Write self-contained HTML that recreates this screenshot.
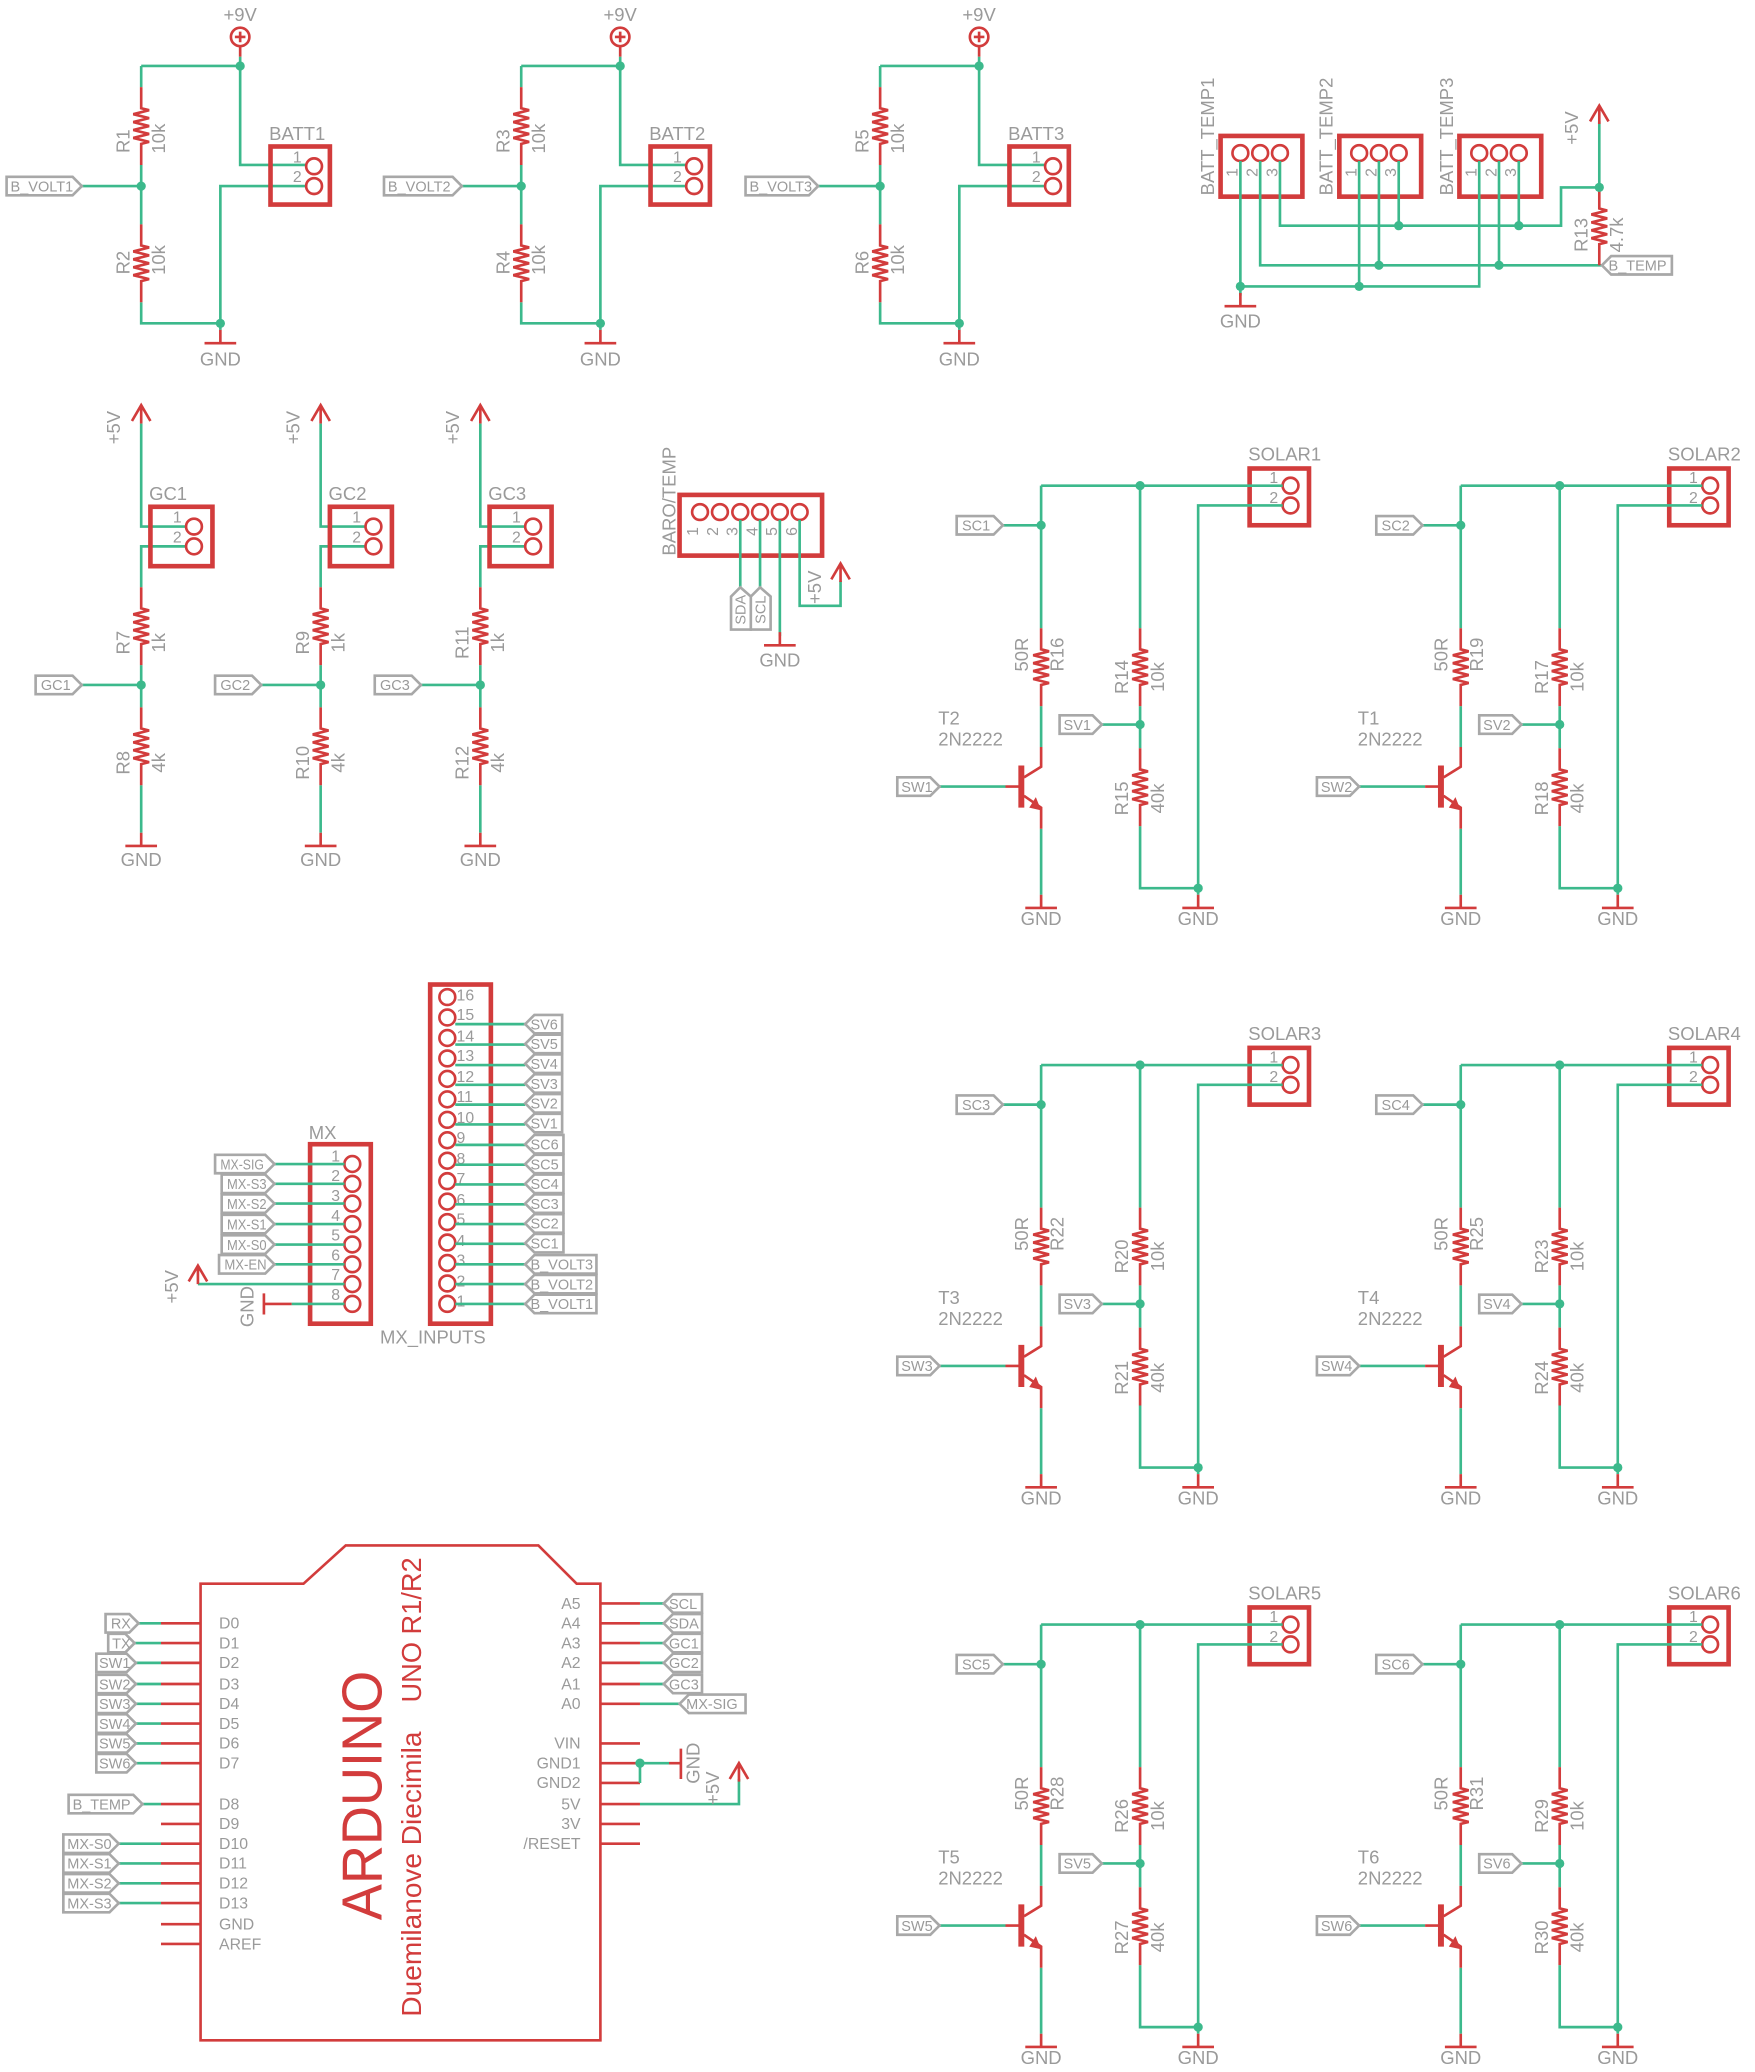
<!DOCTYPE html>
<html><head><meta charset="utf-8"><style>
html,body{margin:0;padding:0;background:#fff;}
svg{display:block;}
text{font-family:"Liberation Sans",sans-serif;fill:#9a9a9a;}
.w{stroke:#3cb98c;stroke-width:2;fill:none;}
.r{stroke:#d23c3c;stroke-width:2;fill:none;}
.rb{stroke:#d23c3c;stroke-width:3.5;fill:none;}
.l{stroke:#a8a8a8;stroke-width:2;fill:#fff;}
.j{fill:#3cb98c;}
.n{font-size:14px;}
.s{font-size:11px;}
.p{font-size:12px;}
.m{text-anchor:middle;}
.e{text-anchor:end;}
</style></head><body>
<svg width="1755" height="2072" viewBox="0 0 1330 1570" preserveAspectRatio="none" xmlns="http://www.w3.org/2000/svg">
<defs>
<path id="res" d="M0,0 V16 L6,17.5 -6,20.5 6,23.5 -6,26.5 6,29.5 -6,32.5 6,35.5 -6,38.5 6,41.5 0,43 V59" stroke="#d23c3c" stroke-width="2" fill="none"/>
<circle id="jn" r="3.5" fill="#3cb98c"/>
<g id="p9"><circle cx="0" cy="0" r="7" stroke="#d23c3c" stroke-width="2" fill="none"/><path d="M-4,0 H4 M0,-4 V4 M0,7 V15" stroke="#d23c3c" stroke-width="2"/></g>
<path id="v5" d="M0,0 V12 M-7,10 L0,-2 L7,10" stroke="#d23c3c" stroke-width="2" fill="none"/>
<path id="gnd" d="M0,-10 V0 M-12,0 H12" stroke="#d23c3c" stroke-width="2" fill="none"/>
</defs>

<!-- ===== BATT blocks ===== -->
<g>
<use href="#p9" x="182" y="28"/><text class="n m" x="182" y="16">+9V</text>
<path class="w" d="M182,43 V125 H232 M107,50 H182 M107,50 V66 M107,125 V170 M62,141 H107 M107,229 V245 H167 M232,141 H167 V250"/>
<use href="#res" x="107" y="66"/><use href="#res" x="107" y="170"/>
<use href="#jn" x="182" y="50"/><use href="#jn" x="107" y="141"/><use href="#jn" x="167" y="245"/>
<use href="#gnd" x="167" y="260"/><text class="n m" x="167" y="277">GND</text>
<rect class="rb" x="205" y="111" width="45" height="44"/>
<circle class="r" cx="238" cy="126" r="6"/><circle class="r" cx="238" cy="141" r="6"/>
<text class="p" x="222" y="123">1</text><text class="p" x="222" y="138">2</text>
<text class="n" x="204" y="106">BATT1</text>
<path class="l" d="M5,134 H55 L62,141 L55,148 H5 Z"/><text class="s" x="8" y="145">B_VOLT1</text>
<text class="n m" transform="translate(98,107) rotate(-90)">R1</text><text class="n m" transform="translate(125,105) rotate(-90)">10k</text>
<text class="n m" transform="translate(98,199) rotate(-90)">R2</text><text class="n m" transform="translate(125,197) rotate(-90)">10k</text>
</g>
<g transform="translate(288,0)">
<use href="#p9" x="182" y="28"/><text class="n m" x="182" y="16">+9V</text>
<path class="w" d="M182,43 V125 H232 M107,50 H182 M107,50 V66 M107,125 V170 M62,141 H107 M107,229 V245 H167 M232,141 H167 V250"/>
<use href="#res" x="107" y="66"/><use href="#res" x="107" y="170"/>
<use href="#jn" x="182" y="50"/><use href="#jn" x="107" y="141"/><use href="#jn" x="167" y="245"/>
<use href="#gnd" x="167" y="260"/><text class="n m" x="167" y="277">GND</text>
<rect class="rb" x="205" y="111" width="45" height="44"/>
<circle class="r" cx="238" cy="126" r="6"/><circle class="r" cx="238" cy="141" r="6"/>
<text class="p" x="222" y="123">1</text><text class="p" x="222" y="138">2</text>
<text class="n" x="204" y="106">BATT2</text>
<path class="l" d="M3,134 H55 L62,141 L55,148 H3 Z"/><text class="s" x="6" y="145">B_VOLT2</text>
<text class="n m" transform="translate(98,107) rotate(-90)">R3</text><text class="n m" transform="translate(125,105) rotate(-90)">10k</text>
<text class="n m" transform="translate(98,199) rotate(-90)">R4</text><text class="n m" transform="translate(125,197) rotate(-90)">10k</text>
</g>
<g transform="translate(560,0)">
<use href="#p9" x="182" y="28"/><text class="n m" x="182" y="16">+9V</text>
<path class="w" d="M182,43 V125 H232 M107,50 H182 M107,50 V66 M107,125 V170 M60,141 H107 M107,229 V245 H167 M232,141 H167 V250"/>
<use href="#res" x="107" y="66"/><use href="#res" x="107" y="170"/>
<use href="#jn" x="182" y="50"/><use href="#jn" x="107" y="141"/><use href="#jn" x="167" y="245"/>
<use href="#gnd" x="167" y="260"/><text class="n m" x="167" y="277">GND</text>
<rect class="rb" x="205" y="111" width="45" height="44"/>
<circle class="r" cx="238" cy="126" r="6"/><circle class="r" cx="238" cy="141" r="6"/>
<text class="p" x="222" y="123">1</text><text class="p" x="222" y="138">2</text>
<text class="n" x="204" y="106">BATT3</text>
<path class="l" d="M5,134 H53 L60,141 L53,148 H5 Z"/><text class="s" x="8" y="145">B_VOLT3</text>
<text class="n m" transform="translate(98,107) rotate(-90)">R5</text><text class="n m" transform="translate(125,105) rotate(-90)">10k</text>
<text class="n m" transform="translate(98,199) rotate(-90)">R6</text><text class="n m" transform="translate(125,197) rotate(-90)">10k</text>
</g>

<!-- ===== BATT TEMP ===== -->
<g>
<rect class="rb" x="925" y="103" width="62" height="46"/>
<rect class="rb" x="1015" y="103" width="62" height="46"/>
<rect class="rb" x="1106" y="103" width="62" height="46"/>
<circle class="r" cx="940" cy="116" r="6"/><circle class="r" cx="955" cy="116" r="6"/><circle class="r" cx="970" cy="116" r="6"/>
<circle class="r" cx="1030" cy="116" r="6"/><circle class="r" cx="1045" cy="116" r="6"/><circle class="r" cx="1060" cy="116" r="6"/>
<circle class="r" cx="1121" cy="116" r="6"/><circle class="r" cx="1136" cy="116" r="6"/><circle class="r" cx="1151" cy="116" r="6"/>
<text class="p" transform="translate(938,134) rotate(-90)">1</text><text class="p" transform="translate(953,134) rotate(-90)">2</text><text class="p" transform="translate(968,134) rotate(-90)">3</text>
<text class="p" transform="translate(1028,134) rotate(-90)">1</text><text class="p" transform="translate(1043,134) rotate(-90)">2</text><text class="p" transform="translate(1058,134) rotate(-90)">3</text>
<text class="p" transform="translate(1119,134) rotate(-90)">1</text><text class="p" transform="translate(1134,134) rotate(-90)">2</text><text class="p" transform="translate(1149,134) rotate(-90)">3</text>
<text class="n" transform="translate(920,148) rotate(-90)">BATT_TEMP1</text>
<text class="n" transform="translate(1010,148) rotate(-90)">BATT_TEMP2</text>
<text class="n" transform="translate(1101,148) rotate(-90)">BATT_TEMP3</text>
<path class="w" d="M970,122 V171 H1183 V142 H1212 M1060,122 V171 M1151,122 V171 M955,122 V201 H1214 M1045,122 V201 M1136,122 V201 M940,122 V217 H1121 V122 M1030,122 V217 M940,217 V224 M1212,92 V142"/>
<use href="#v5" x="1212" y="82"/>
<text class="n m" transform="translate(1196,97) rotate(-90)">+5V</text>
<use href="#res" x="1212" y="142"/>
<use href="#jn" x="1060" y="171"/><use href="#jn" x="1151" y="171"/><use href="#jn" x="1045" y="201"/><use href="#jn" x="1136" y="201"/><use href="#jn" x="940" y="217"/><use href="#jn" x="1030" y="217"/><use href="#jn" x="1212" y="142"/>
<use href="#gnd" x="940" y="232"/><text class="n m" x="940" y="248">GND</text>
<path class="l" d="M1214,201 L1221,194 H1267 V208 H1221 Z"/><text class="s" x="1219" y="205">B_TEMP</text>
<text class="n m" transform="translate(1203,178) rotate(-90)">R13</text><text class="n m" transform="translate(1230,178) rotate(-90)">4.7k</text>
</g>

<!-- ===== GC blocks ===== -->
<g>
<use href="#v5" x="107" y="309"/><text class="n m" transform="translate(91,324) rotate(-90)">+5V</text>
<path class="w" d="M107,321 V399 H141 M141,414 H107 V445 M107,504 V536 M62,519 H107 M107,595 V631"/>
<use href="#res" x="107" y="445"/><use href="#res" x="107" y="536"/><use href="#jn" x="107" y="519"/>
<rect class="rb" x="114" y="384" width="47" height="45"/>
<circle class="r" cx="147" cy="399" r="6"/><circle class="r" cx="147" cy="414" r="6"/>
<text class="p" x="131" y="396">1</text><text class="p" x="131" y="411">2</text>
<text class="n" x="113" y="379">GC1</text>
<path class="l" d="M27,512 H55 L62,519 L55,526 H27 Z"/><text class="s" x="31" y="523">GC1</text>
<use href="#gnd" x="107" y="641"/><text class="n m" x="107" y="656">GND</text>
<text class="n m" transform="translate(98,487) rotate(-90)">R7</text><text class="n m" transform="translate(125,487) rotate(-90)">1k</text>
<text class="n m" transform="translate(98,578) rotate(-90)">R8</text><text class="n m" transform="translate(125,578) rotate(-90)">4k</text>
</g>
<g transform="translate(136,0)">
<use href="#v5" x="107" y="309"/><text class="n m" transform="translate(91,324) rotate(-90)">+5V</text>
<path class="w" d="M107,321 V399 H141 M141,414 H107 V445 M107,504 V536 M62,519 H107 M107,595 V631"/>
<use href="#res" x="107" y="445"/><use href="#res" x="107" y="536"/><use href="#jn" x="107" y="519"/>
<rect class="rb" x="114" y="384" width="47" height="45"/>
<circle class="r" cx="147" cy="399" r="6"/><circle class="r" cx="147" cy="414" r="6"/>
<text class="p" x="131" y="396">1</text><text class="p" x="131" y="411">2</text>
<text class="n" x="113" y="379">GC2</text>
<path class="l" d="M27,512 H55 L62,519 L55,526 H27 Z"/><text class="s" x="31" y="523">GC2</text>
<use href="#gnd" x="107" y="641"/><text class="n m" x="107" y="656">GND</text>
<text class="n m" transform="translate(98,487) rotate(-90)">R9</text><text class="n m" transform="translate(125,487) rotate(-90)">1k</text>
<text class="n m" transform="translate(98,578) rotate(-90)">R10</text><text class="n m" transform="translate(125,578) rotate(-90)">4k</text>
</g>
<g transform="translate(257,0)">
<use href="#v5" x="107" y="309"/><text class="n m" transform="translate(91,324) rotate(-90)">+5V</text>
<path class="w" d="M107,321 V399 H141 M141,414 H107 V445 M107,504 V536 M62,519 H107 M107,595 V631"/>
<use href="#res" x="107" y="445"/><use href="#res" x="107" y="536"/><use href="#jn" x="107" y="519"/>
<rect class="rb" x="114" y="384" width="47" height="45"/>
<circle class="r" cx="147" cy="399" r="6"/><circle class="r" cx="147" cy="414" r="6"/>
<text class="p" x="131" y="396">1</text><text class="p" x="131" y="411">2</text>
<text class="n" x="113" y="379">GC3</text>
<path class="l" d="M27,512 H55 L62,519 L55,526 H27 Z"/><text class="s" x="31" y="523">GC3</text>
<use href="#gnd" x="107" y="641"/><text class="n m" x="107" y="656">GND</text>
<text class="n m" transform="translate(98,487) rotate(-90)">R11</text><text class="n m" transform="translate(125,487) rotate(-90)">1k</text>
<text class="n m" transform="translate(98,578) rotate(-90)">R12</text><text class="n m" transform="translate(125,578) rotate(-90)">4k</text>
</g>

<!-- ===== BARO/TEMP ===== -->
<g>
<rect class="rb" x="515" y="375" width="108" height="46"/>
<circle class="r" cx="530.5" cy="388" r="6"/><circle class="r" cx="545.6" cy="388" r="6"/><circle class="r" cx="561" cy="388" r="6"/><circle class="r" cx="576" cy="388" r="6"/><circle class="r" cx="591" cy="388" r="6"/><circle class="r" cx="606" cy="388" r="6"/>
<text class="p" transform="translate(529,406) rotate(-90)">1</text><text class="p" transform="translate(544,406) rotate(-90)">2</text><text class="p" transform="translate(559,406) rotate(-90)">3</text><text class="p" transform="translate(574,406) rotate(-90)">4</text><text class="p" transform="translate(589,406) rotate(-90)">5</text><text class="p" transform="translate(604,406) rotate(-90)">6</text>
<text class="n" transform="translate(512,421) rotate(-90)">BARO/TEMP</text>
<path class="w" d="M561,394 V445 M576,394 V445 M591,394 V482 M606,394 V459 H637 V440"/>
<use href="#v5" x="637" y="429"/>
<text class="n m" transform="translate(622,445) rotate(-90)">+5V</text>
<path class="l" d="M561,445 L569,452 V477 H554 V452 Z"/><text class="s m" transform="translate(565,462) rotate(-90)">SDA</text>
<path class="l" d="M576,445 L584,452 V477 H569 V452 Z"/><text class="s m" transform="translate(580,462) rotate(-90)">SCL</text>
<use href="#gnd" x="591" y="489"/><text class="n m" x="591" y="505">GND</text>
</g>

<!-- ===== SOLAR blocks ===== -->
<g>
<rect class="rb" x="947" y="355" width="45" height="43"/>
<circle class="r" cx="978" cy="368" r="6"/><circle class="r" cx="978" cy="383" r="6"/>
<text class="p" x="962" y="366">1</text><text class="p" x="962" y="381">2</text>
<text class="n" x="946" y="349">SOLAR1</text>
<path class="w" d="M789,368 H972 M972,383 H908 V678 M789,368 V476 M760,398 H789 M864,368 V476 M864,535 V567 M835,549 H864 M864,626 V673 H908 M789,535 V566 M712,596 H762 M789,628 V678"/>
<use href="#res" x="789" y="476"/><use href="#res" x="864" y="476"/><use href="#res" x="864" y="567"/>
<path class="r" d="M762,596 H774 M776,589 L789,581 V566 M776,603 L789,612 V628"/>
<path d="M774,580 V612" stroke="#d23c3c" stroke-width="4.5"/>
<polygon points="789,614 780,612 785,604" fill="#d23c3c"/>
<use href="#jn" x="864" y="368"/><use href="#jn" x="789" y="398"/><use href="#jn" x="864" y="549"/><use href="#jn" x="908" y="673"/>
<use href="#gnd" x="789" y="688"/><use href="#gnd" x="908" y="688"/>
<text class="n m" x="789" y="701">GND</text><text class="n m" x="908" y="701">GND</text>
<text class="n" x="711" y="549">T2</text><text class="n" x="711" y="565">2N2222</text>
<text class="n m" transform="translate(779,496) rotate(-90)">50R</text><text class="n m" transform="translate(806,496) rotate(-90)">R16</text>
<text class="n m" transform="translate(855,513) rotate(-90)">R14</text><text class="n m" transform="translate(882,513) rotate(-90)">10k</text>
<text class="n m" transform="translate(855,605) rotate(-90)">R15</text><text class="n m" transform="translate(882,605) rotate(-90)">40k</text>
<path class="l" d="M725,391 H753 L760,398 L753,405 H725 Z"/><text class="s" x="729" y="402">SC1</text>
<path class="l" d="M803,542 H828 L835,549 L828,556 H803 Z"/><text class="s" x="806" y="553">SV1</text>
<path class="l" d="M680,589 H705 L712,596 L705,603 H680 Z"/><text class="s" x="683" y="600">SW1</text>
</g>
<g transform="translate(318,0)">
<rect class="rb" x="947" y="355" width="45" height="43"/>
<circle class="r" cx="978" cy="368" r="6"/><circle class="r" cx="978" cy="383" r="6"/>
<text class="p" x="962" y="366">1</text><text class="p" x="962" y="381">2</text>
<text class="n" x="946" y="349">SOLAR2</text>
<path class="w" d="M789,368 H972 M972,383 H908 V678 M789,368 V476 M760,398 H789 M864,368 V476 M864,535 V567 M835,549 H864 M864,626 V673 H908 M789,535 V566 M712,596 H762 M789,628 V678"/>
<use href="#res" x="789" y="476"/><use href="#res" x="864" y="476"/><use href="#res" x="864" y="567"/>
<path class="r" d="M762,596 H774 M776,589 L789,581 V566 M776,603 L789,612 V628"/>
<path d="M774,580 V612" stroke="#d23c3c" stroke-width="4.5"/>
<polygon points="789,614 780,612 785,604" fill="#d23c3c"/>
<use href="#jn" x="864" y="368"/><use href="#jn" x="789" y="398"/><use href="#jn" x="864" y="549"/><use href="#jn" x="908" y="673"/>
<use href="#gnd" x="789" y="688"/><use href="#gnd" x="908" y="688"/>
<text class="n m" x="789" y="701">GND</text><text class="n m" x="908" y="701">GND</text>
<text class="n" x="711" y="549">T1</text><text class="n" x="711" y="565">2N2222</text>
<text class="n m" transform="translate(779,496) rotate(-90)">50R</text><text class="n m" transform="translate(806,496) rotate(-90)">R19</text>
<text class="n m" transform="translate(855,513) rotate(-90)">R17</text><text class="n m" transform="translate(882,513) rotate(-90)">10k</text>
<text class="n m" transform="translate(855,605) rotate(-90)">R18</text><text class="n m" transform="translate(882,605) rotate(-90)">40k</text>
<path class="l" d="M725,391 H753 L760,398 L753,405 H725 Z"/><text class="s" x="729" y="402">SC2</text>
<path class="l" d="M803,542 H828 L835,549 L828,556 H803 Z"/><text class="s" x="806" y="553">SV2</text>
<path class="l" d="M680,589 H705 L712,596 L705,603 H680 Z"/><text class="s" x="683" y="600">SW2</text>
</g>
<g transform="translate(0,439)">
<rect class="rb" x="947" y="355" width="45" height="43"/>
<circle class="r" cx="978" cy="368" r="6"/><circle class="r" cx="978" cy="383" r="6"/>
<text class="p" x="962" y="366">1</text><text class="p" x="962" y="381">2</text>
<text class="n" x="946" y="349">SOLAR3</text>
<path class="w" d="M789,368 H972 M972,383 H908 V678 M789,368 V476 M760,398 H789 M864,368 V476 M864,535 V567 M835,549 H864 M864,626 V673 H908 M789,535 V566 M712,596 H762 M789,628 V678"/>
<use href="#res" x="789" y="476"/><use href="#res" x="864" y="476"/><use href="#res" x="864" y="567"/>
<path class="r" d="M762,596 H774 M776,589 L789,581 V566 M776,603 L789,612 V628"/>
<path d="M774,580 V612" stroke="#d23c3c" stroke-width="4.5"/>
<polygon points="789,614 780,612 785,604" fill="#d23c3c"/>
<use href="#jn" x="864" y="368"/><use href="#jn" x="789" y="398"/><use href="#jn" x="864" y="549"/><use href="#jn" x="908" y="673"/>
<use href="#gnd" x="789" y="688"/><use href="#gnd" x="908" y="688"/>
<text class="n m" x="789" y="701">GND</text><text class="n m" x="908" y="701">GND</text>
<text class="n" x="711" y="549">T3</text><text class="n" x="711" y="565">2N2222</text>
<text class="n m" transform="translate(779,496) rotate(-90)">50R</text><text class="n m" transform="translate(806,496) rotate(-90)">R22</text>
<text class="n m" transform="translate(855,513) rotate(-90)">R20</text><text class="n m" transform="translate(882,513) rotate(-90)">10k</text>
<text class="n m" transform="translate(855,605) rotate(-90)">R21</text><text class="n m" transform="translate(882,605) rotate(-90)">40k</text>
<path class="l" d="M725,391 H753 L760,398 L753,405 H725 Z"/><text class="s" x="729" y="402">SC3</text>
<path class="l" d="M803,542 H828 L835,549 L828,556 H803 Z"/><text class="s" x="806" y="553">SV3</text>
<path class="l" d="M680,589 H705 L712,596 L705,603 H680 Z"/><text class="s" x="683" y="600">SW3</text>
</g>
<g transform="translate(318,439)">
<rect class="rb" x="947" y="355" width="45" height="43"/>
<circle class="r" cx="978" cy="368" r="6"/><circle class="r" cx="978" cy="383" r="6"/>
<text class="p" x="962" y="366">1</text><text class="p" x="962" y="381">2</text>
<text class="n" x="946" y="349">SOLAR4</text>
<path class="w" d="M789,368 H972 M972,383 H908 V678 M789,368 V476 M760,398 H789 M864,368 V476 M864,535 V567 M835,549 H864 M864,626 V673 H908 M789,535 V566 M712,596 H762 M789,628 V678"/>
<use href="#res" x="789" y="476"/><use href="#res" x="864" y="476"/><use href="#res" x="864" y="567"/>
<path class="r" d="M762,596 H774 M776,589 L789,581 V566 M776,603 L789,612 V628"/>
<path d="M774,580 V612" stroke="#d23c3c" stroke-width="4.5"/>
<polygon points="789,614 780,612 785,604" fill="#d23c3c"/>
<use href="#jn" x="864" y="368"/><use href="#jn" x="789" y="398"/><use href="#jn" x="864" y="549"/><use href="#jn" x="908" y="673"/>
<use href="#gnd" x="789" y="688"/><use href="#gnd" x="908" y="688"/>
<text class="n m" x="789" y="701">GND</text><text class="n m" x="908" y="701">GND</text>
<text class="n" x="711" y="549">T4</text><text class="n" x="711" y="565">2N2222</text>
<text class="n m" transform="translate(779,496) rotate(-90)">50R</text><text class="n m" transform="translate(806,496) rotate(-90)">R25</text>
<text class="n m" transform="translate(855,513) rotate(-90)">R23</text><text class="n m" transform="translate(882,513) rotate(-90)">10k</text>
<text class="n m" transform="translate(855,605) rotate(-90)">R24</text><text class="n m" transform="translate(882,605) rotate(-90)">40k</text>
<path class="l" d="M725,391 H753 L760,398 L753,405 H725 Z"/><text class="s" x="729" y="402">SC4</text>
<path class="l" d="M803,542 H828 L835,549 L828,556 H803 Z"/><text class="s" x="806" y="553">SV4</text>
<path class="l" d="M680,589 H705 L712,596 L705,603 H680 Z"/><text class="s" x="683" y="600">SW4</text>
</g>
<g transform="translate(0,863)">
<rect class="rb" x="947" y="355" width="45" height="43"/>
<circle class="r" cx="978" cy="368" r="6"/><circle class="r" cx="978" cy="383" r="6"/>
<text class="p" x="962" y="366">1</text><text class="p" x="962" y="381">2</text>
<text class="n" x="946" y="349">SOLAR5</text>
<path class="w" d="M789,368 H972 M972,383 H908 V678 M789,368 V476 M760,398 H789 M864,368 V476 M864,535 V567 M835,549 H864 M864,626 V673 H908 M789,535 V566 M712,596 H762 M789,628 V678"/>
<use href="#res" x="789" y="476"/><use href="#res" x="864" y="476"/><use href="#res" x="864" y="567"/>
<path class="r" d="M762,596 H774 M776,589 L789,581 V566 M776,603 L789,612 V628"/>
<path d="M774,580 V612" stroke="#d23c3c" stroke-width="4.5"/>
<polygon points="789,614 780,612 785,604" fill="#d23c3c"/>
<use href="#jn" x="864" y="368"/><use href="#jn" x="789" y="398"/><use href="#jn" x="864" y="549"/><use href="#jn" x="908" y="673"/>
<use href="#gnd" x="789" y="688"/><use href="#gnd" x="908" y="688"/>
<text class="n m" x="789" y="701">GND</text><text class="n m" x="908" y="701">GND</text>
<text class="n" x="711" y="549">T5</text><text class="n" x="711" y="565">2N2222</text>
<text class="n m" transform="translate(779,496) rotate(-90)">50R</text><text class="n m" transform="translate(806,496) rotate(-90)">R28</text>
<text class="n m" transform="translate(855,513) rotate(-90)">R26</text><text class="n m" transform="translate(882,513) rotate(-90)">10k</text>
<text class="n m" transform="translate(855,605) rotate(-90)">R27</text><text class="n m" transform="translate(882,605) rotate(-90)">40k</text>
<path class="l" d="M725,391 H753 L760,398 L753,405 H725 Z"/><text class="s" x="729" y="402">SC5</text>
<path class="l" d="M803,542 H828 L835,549 L828,556 H803 Z"/><text class="s" x="806" y="553">SV5</text>
<path class="l" d="M680,589 H705 L712,596 L705,603 H680 Z"/><text class="s" x="683" y="600">SW5</text>
</g>
<g transform="translate(318,863)">
<rect class="rb" x="947" y="355" width="45" height="43"/>
<circle class="r" cx="978" cy="368" r="6"/><circle class="r" cx="978" cy="383" r="6"/>
<text class="p" x="962" y="366">1</text><text class="p" x="962" y="381">2</text>
<text class="n" x="946" y="349">SOLAR6</text>
<path class="w" d="M789,368 H972 M972,383 H908 V678 M789,368 V476 M760,398 H789 M864,368 V476 M864,535 V567 M835,549 H864 M864,626 V673 H908 M789,535 V566 M712,596 H762 M789,628 V678"/>
<use href="#res" x="789" y="476"/><use href="#res" x="864" y="476"/><use href="#res" x="864" y="567"/>
<path class="r" d="M762,596 H774 M776,589 L789,581 V566 M776,603 L789,612 V628"/>
<path d="M774,580 V612" stroke="#d23c3c" stroke-width="4.5"/>
<polygon points="789,614 780,612 785,604" fill="#d23c3c"/>
<use href="#jn" x="864" y="368"/><use href="#jn" x="789" y="398"/><use href="#jn" x="864" y="549"/><use href="#jn" x="908" y="673"/>
<use href="#gnd" x="789" y="688"/><use href="#gnd" x="908" y="688"/>
<text class="n m" x="789" y="701">GND</text><text class="n m" x="908" y="701">GND</text>
<text class="n" x="711" y="549">T6</text><text class="n" x="711" y="565">2N2222</text>
<text class="n m" transform="translate(779,496) rotate(-90)">50R</text><text class="n m" transform="translate(806,496) rotate(-90)">R31</text>
<text class="n m" transform="translate(855,513) rotate(-90)">R29</text><text class="n m" transform="translate(882,513) rotate(-90)">10k</text>
<text class="n m" transform="translate(855,605) rotate(-90)">R30</text><text class="n m" transform="translate(882,605) rotate(-90)">40k</text>
<path class="l" d="M725,391 H753 L760,398 L753,405 H725 Z"/><text class="s" x="729" y="402">SC6</text>
<path class="l" d="M803,542 H828 L835,549 L828,556 H803 Z"/><text class="s" x="806" y="553">SV6</text>
<path class="l" d="M680,589 H705 L712,596 L705,603 H680 Z"/><text class="s" x="683" y="600">SW6</text>
</g>

<!-- ===== MX_INPUTS ===== -->
<g>
<rect class="rb" x="326" y="746" width="46" height="257"/>
<g class="r">
<circle cx="339" cy="755.5" r="6"/><circle cx="339" cy="771" r="6"/><circle cx="339" cy="786.5" r="6"/><circle cx="339" cy="802" r="6"/><circle cx="339" cy="817.5" r="6"/><circle cx="339" cy="833" r="6"/><circle cx="339" cy="848.5" r="6"/><circle cx="339" cy="864" r="6"/><circle cx="339" cy="879.5" r="6"/><circle cx="339" cy="895" r="6"/><circle cx="339" cy="910.5" r="6"/><circle cx="339" cy="926" r="6"/><circle cx="339" cy="941.5" r="6"/><circle cx="339" cy="957" r="6"/><circle cx="339" cy="972.5" r="6"/><circle cx="339" cy="988" r="6"/>
</g>
<g class="p">
<text x="346" y="758">16</text><text x="346" y="773">15</text><text x="346" y="789">14</text><text x="346" y="804">13</text><text x="346" y="820">12</text><text x="346" y="835">11</text><text x="346" y="851">10</text><text x="346" y="866">9</text><text x="346" y="882">8</text><text x="346" y="897">7</text><text x="346" y="913">6</text><text x="346" y="928">5</text><text x="346" y="944">4</text><text x="346" y="959">3</text><text x="346" y="975">2</text><text x="346" y="990">1</text>
</g>
<path class="w" d="M345,776 H398 M345,791.5 H398 M345,807 H398 M345,822 H398 M345,837 H398 M345,852 H398 M345,867.5 H398 M345,882.5 H398 M345,897.5 H398 M345,912.5 H398 M345,927.5 H398 M345,942.5 H398 M345,958 H398 M345,973 H398 M345,988 H398"/>
<g>
<path class="l" d="M398,776 L405,769 H426 V783 H405 Z"/><text class="s" x="402" y="780">SV6</text>
<path class="l" d="M398,791 L405,784 H426 V798 H405 Z"/><text class="s" x="402" y="795">SV5</text>
<path class="l" d="M398,806 L405,799 H426 V813 H405 Z"/><text class="s" x="402" y="810">SV4</text>
<path class="l" d="M398,821 L405,814 H426 V828 H405 Z"/><text class="s" x="402" y="825">SV3</text>
<path class="l" d="M398,836 L405,829 H426 V843 H405 Z"/><text class="s" x="402" y="840">SV2</text>
<path class="l" d="M398,851 L405,844 H426 V858 H405 Z"/><text class="s" x="402" y="855">SV1</text>
<path class="l" d="M398,867 L405,860 H427 V874 H405 Z"/><text class="s" x="402" y="871">SC6</text>
<path class="l" d="M398,882 L405,875 H427 V889 H405 Z"/><text class="s" x="402" y="886">SC5</text>
<path class="l" d="M398,897 L405,890 H427 V904 H405 Z"/><text class="s" x="402" y="901">SC4</text>
<path class="l" d="M398,912 L405,905 H427 V919 H405 Z"/><text class="s" x="402" y="916">SC3</text>
<path class="l" d="M398,927 L405,920 H427 V934 H405 Z"/><text class="s" x="402" y="931">SC2</text>
<path class="l" d="M398,942 L405,935 H427 V949 H405 Z"/><text class="s" x="402" y="946">SC1</text>
<path class="l" d="M398,958 L405,951 H452 V965 H405 Z"/><text class="s" x="402" y="962">B_VOLT3</text>
<path class="l" d="M398,973 L405,966 H452 V980 H405 Z"/><text class="s" x="402" y="977">B_VOLT2</text>
<path class="l" d="M398,988 L405,981 H452 V995 H405 Z"/><text class="s" x="402" y="992">B_VOLT1</text>
</g>
<text class="n" x="288" y="1018">MX_INPUTS</text>
</g>

<!-- ===== MX ===== -->
<g>
<rect class="rb" x="235" y="867" width="46" height="136"/>
<g class="r"><circle cx="267" cy="882" r="6"/><circle cx="267" cy="897" r="6"/><circle cx="267" cy="912" r="6"/><circle cx="267" cy="927.5" r="6"/><circle cx="267" cy="943" r="6"/><circle cx="267" cy="958" r="6"/><circle cx="267" cy="973" r="6"/><circle cx="267" cy="988" r="6"/></g>
<g class="p"><text x="251" y="880">1</text><text x="251" y="895">2</text><text x="251" y="910">3</text><text x="251" y="925">4</text><text x="251" y="940">5</text><text x="251" y="955">6</text><text x="251" y="970">7</text><text x="251" y="985">8</text></g>
<text class="n" x="234" y="863">MX</text>
<path class="w" d="M208,882 H261 M208,897 H261 M208,912 H261 M208,927.5 H261 M208,943 H261 M208,958 H261 M150,973 H261 M221,988 H261"/>
<path class="r" d="M200,988 H221 M200,980 V996"/>
<use href="#v5" x="150" y="961"/>
<text class="n m" transform="translate(135,975) rotate(-90)">+5V</text>
<text class="n m" transform="translate(192,990) rotate(-90)">GND</text>
<path class="l" d="M163,875 H201 L208,882 L201,889 H163 Z"/><text class="s" x="167" y="886" textLength="33" lengthAdjust="spacingAndGlyphs">MX-SIG</text>
<path class="l" d="M168,890 H201 L208,897 L201,904 H168 Z"/><text class="s" x="172" y="901" textLength="30" lengthAdjust="spacingAndGlyphs">MX-S3</text>
<path class="l" d="M168,905 H201 L208,912 L201,919 H168 Z"/><text class="s" x="172" y="916" textLength="30" lengthAdjust="spacingAndGlyphs">MX-S2</text>
<path class="l" d="M168,920.5 H201 L208,927.5 L201,934.5 H168 Z"/><text class="s" x="172" y="931.5" textLength="30" lengthAdjust="spacingAndGlyphs">MX-S1</text>
<path class="l" d="M168,936 H201 L208,943 L201,950 H168 Z"/><text class="s" x="172" y="947" textLength="30" lengthAdjust="spacingAndGlyphs">MX-S0</text>
<path class="l" d="M166,951 H201 L208,958 L201,965 H166 Z"/><text class="s" x="170" y="962" textLength="32" lengthAdjust="spacingAndGlyphs">MX-EN</text>
</g>

<!-- ===== ARDUINO ===== -->
<g>
<path class="r" d="M152,1200 H230 L262,1171 H408 L437,1200 H455 V1546 H152 Z"/>
<path class="r" d="M122,1230 H152 M122,1245 H152 M122,1260 H152 M122,1276 H152 M122,1291 H152 M122,1306 H152 M122,1321 H152 M122,1336 H152 M122,1367 H152 M122,1382 H152 M122,1397 H152 M122,1412 H152 M122,1427 H152 M122,1442 H152 M122,1458 H152 M122,1473 H152"/>
<path class="r" d="M455,1215 H485 M455,1230 H485 M455,1245 H485 M455,1260 H485 M455,1276 H485 M455,1291 H485 M455,1321 H485 M455,1336 H485 M455,1351 H485 M455,1367 H485 M455,1382 H485 M455,1397 H485"/>
<g style="font-size:12px">
<text x="166" y="1234">D0</text><text x="166" y="1249">D1</text><text x="166" y="1264">D2</text><text x="166" y="1280">D3</text><text x="166" y="1295">D4</text><text x="166" y="1310">D5</text><text x="166" y="1325">D6</text><text x="166" y="1340">D7</text><text x="166" y="1371">D8</text><text x="166" y="1386">D9</text><text x="166" y="1401">D10</text><text x="166" y="1416">D11</text><text x="166" y="1431">D12</text><text x="166" y="1446">D13</text><text x="166" y="1462">GND</text><text x="166" y="1477">AREF</text>
<text class="e" x="440" y="1219">A5</text><text class="e" x="440" y="1234">A4</text><text class="e" x="440" y="1249">A3</text><text class="e" x="440" y="1264">A2</text><text class="e" x="440" y="1280">A1</text><text class="e" x="440" y="1295">A0</text><text class="e" x="440" y="1325">VIN</text><text class="e" x="440" y="1340">GND1</text><text class="e" x="440" y="1355">GND2</text><text class="e" x="440" y="1371">5V</text><text class="e" x="440" y="1386">3V</text><text class="e" x="440" y="1401">/RESET</text>
</g>
<text transform="translate(289,1455) rotate(-90)" textLength="189" lengthAdjust="spacingAndGlyphs" style="font-size:43px;fill:#d23c3c">ARDUINO</text>
<text transform="translate(319,1290) rotate(-90)" textLength="110" lengthAdjust="spacingAndGlyphs" style="font-size:21px;fill:#d23c3c">UNO R1/R2</text>
<text transform="translate(319,1528) rotate(-90)" textLength="216" lengthAdjust="spacingAndGlyphs" style="font-size:21px;fill:#d23c3c">Duemilanove  Diecimila</text>
<path class="w" d="M105,1230 H122 M102,1245 H122 M103,1260 H122 M103,1276 H122 M103,1291 H122 M103,1306 H122 M103,1321 H122 M103,1336 H122 M108,1367 H122 M90,1397 H122 M90,1412 H122 M90,1427 H122 M90,1442 H122"/>
<path class="l" d="M80,1223 H98 L105,1230 L98,1237 H80 Z"/><text class="s" x="84" y="1234">RX</text>
<path class="l" d="M82,1238 H95 L102,1245 L95,1252 H82 Z"/><text class="s" x="85" y="1249">TX</text>
<path class="l" d="M73,1253 H96 L103,1260 L96,1267 H73 Z"/><text class="s" x="75" y="1264">SW1</text>
<path class="l" d="M73,1269 H96 L103,1276 L96,1283 H73 Z"/><text class="s" x="75" y="1280">SW2</text>
<path class="l" d="M73,1284 H96 L103,1291 L96,1298 H73 Z"/><text class="s" x="75" y="1295">SW3</text>
<path class="l" d="M73,1299 H96 L103,1306 L96,1313 H73 Z"/><text class="s" x="75" y="1310">SW4</text>
<path class="l" d="M73,1314 H96 L103,1321 L96,1328 H73 Z"/><text class="s" x="75" y="1325">SW5</text>
<path class="l" d="M73,1329 H96 L103,1336 L96,1343 H73 Z"/><text class="s" x="75" y="1340">SW6</text>
<path class="l" d="M52,1360 H101 L108,1367 L101,1374 H52 Z"/><text class="s" x="55" y="1371">B_TEMP</text>
<path class="l" d="M48,1390 H83 L90,1397 L83,1404 H48 Z"/><text class="s" x="51" y="1401">MX-S0</text>
<path class="l" d="M48,1405 H83 L90,1412 L83,1419 H48 Z"/><text class="s" x="51" y="1416">MX-S1</text>
<path class="l" d="M48,1420 H83 L90,1427 L83,1434 H48 Z"/><text class="s" x="51" y="1431">MX-S2</text>
<path class="l" d="M48,1435 H83 L90,1442 L83,1449 H48 Z"/><text class="s" x="51" y="1446">MX-S3</text>
<path class="w" d="M485,1215 H503 M485,1230 H503 M485,1245 H503 M485,1260 H503 M485,1276 H503 M485,1291 H515 M485,1336 H507 M485,1351 V1336 M485,1367 H560 V1348"/>
<path class="r" d="M507,1336 H516 M516,1325 V1348"/>
<use href="#jn" x="485" y="1336"/>
<use href="#v5" x="560" y="1338"/>
<text class="n m" transform="translate(530,1336) rotate(-90)">GND</text>
<text class="n m" transform="translate(545,1355) rotate(-90)">+5V</text>
<path class="l" d="M503,1215 L510,1208 H532 V1222 H510 Z"/><text class="s" x="507" y="1219">SCL</text>
<path class="l" d="M503,1230 L510,1223 H532 V1237 H510 Z"/><text class="s" x="507" y="1234">SDA</text>
<path class="l" d="M503,1245 L510,1238 H532 V1252 H510 Z"/><text class="s" x="507" y="1249">GC1</text>
<path class="l" d="M503,1260 L510,1253 H532 V1267 H510 Z"/><text class="s" x="507" y="1264">GC2</text>
<path class="l" d="M503,1276 L510,1269 H532 V1283 H510 Z"/><text class="s" x="507" y="1280">GC3</text>
<path class="l" d="M515,1291 L522,1284 H565 V1298 H522 Z"/><text class="s" x="520" y="1295">MX-SIG</text>
</g>
</svg>
</body></html>
